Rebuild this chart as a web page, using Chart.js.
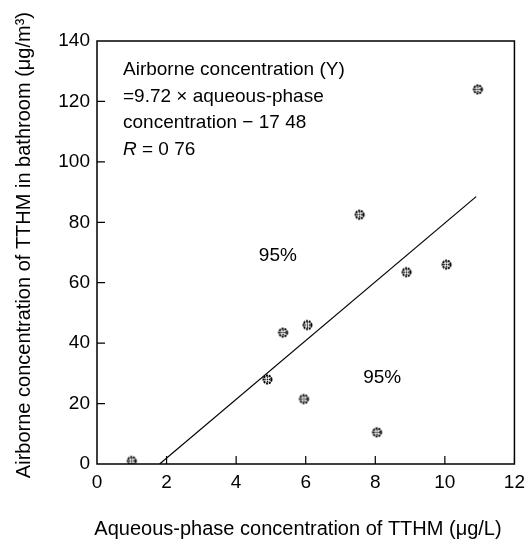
<!DOCTYPE html>
<html>
<head>
<meta charset="utf-8">
<script src="https://cdn.jsdelivr.net/npm/chart.js@4/dist/chart.umd.min.js"></script>
<style>
  html, body { margin: 0; background: #fff; }
  #wrap { width: 532px; height: 548px; }
</style>
</head>
<body>
<div id="wrap"><canvas id="tthmChart" width="532" height="548"></canvas></div>
<script>
// Measured TTHM: aqueous phase (ug/L) vs. airborne in bathroom (ug/m3)
const aqueous  = [1.0, 4.9, 5.35, 5.95, 6.05, 7.55, 8.05, 8.9, 10.05, 10.95];
const airborne = [1.0, 28.0, 43.5, 21.5, 46.0, 82.5, 10.5, 63.5, 66.0, 124.0];

// regression line end points
const fitX = [1.8, 10.9];
const fitY = [0, 88.5];

const xTicks = [0, 2, 4, 6, 8, 10, 12];
const yTicks = [0, 20, 40, 60, 80, 100, 120, 140];

const FONT = '"Liberation Sans", Arial, sans-serif';

// speckled round marker
function makeMarker() {
  const c = document.createElement('canvas');
  c.width = 13; c.height = 13;
  const g = c.getContext('2d');
  g.strokeStyle = '#000';
  g.lineWidth = 2;
  g.setLineDash([2, 0.8]);
  g.beginPath();
  g.arc(6.5, 6.5, 4.0, 0, Math.PI * 2);
  g.stroke();
  g.lineWidth = 1.4;
  g.setLineDash([1.3, 0.9]);
  g.beginPath();
  g.moveTo(3.5, 6.5); g.lineTo(9.5, 6.5);
  g.moveTo(6.5, 3.5); g.lineTo(6.5, 9.5);
  g.stroke();
  return c;
}
const marker = makeMarker();

const frame = {
  id: 'frame',
  afterDraw(chart) {
    const { ctx, chartArea: a, scales: { x, y } } = chart;
    ctx.save();
    ctx.strokeStyle = '#000';
    ctx.lineWidth = 1.5;
    ctx.strokeRect(a.left, a.top, a.right - a.left, a.bottom - a.top);

    // inward tick marks
    ctx.lineWidth = 1.2;
    ctx.beginPath();
    xTicks.slice(1, -1).forEach(v => {
      const px = x.getPixelForValue(v);
      ctx.moveTo(px, a.bottom); ctx.lineTo(px, a.bottom - 8);
    });
    yTicks.slice(1, -1).forEach(v => {
      const py = y.getPixelForValue(v);
      ctx.moveTo(a.left, py); ctx.lineTo(a.left + 8, py);
    });
    ctx.stroke();

    ctx.fillStyle = '#000';
    ctx.textBaseline = 'middle';
    ctx.textAlign = 'left';
    ctx.font = '19px ' + FONT;
    const tx = a.left + 26;
    ctx.fillText('Airborne concentration (Y)', tx, 70);
    ctx.fillText('=9.72 × aqueous-phase', tx, 97);
    ctx.fillText('concentration − 17 48', tx, 123);
    ctx.font = 'italic 19px ' + FONT;
    ctx.fillText('R', tx, 150);
    const rw = ctx.measureText('R').width;
    ctx.font = '19px ' + FONT;
    ctx.fillText(' = 0 76', tx + rw, 150);

    // confidence labels
    ctx.textAlign = 'center';
    ctx.fillText('95%', x.getPixelForValue(5.2), y.getPixelForValue(69));
    ctx.fillText('95%', x.getPixelForValue(8.2), y.getPixelForValue(28.5));

    // axis titles
    ctx.font = '20px ' + FONT;
    ctx.fillText('Aqueous-phase concentration of TTHM (μg/L)', 298, 529);
    ctx.translate(24, 12);
    ctx.rotate(-Math.PI / 2);
    ctx.textAlign = 'right';
    ctx.fillText('Airborne concentration of TTHM in bathroom (μg/m³)', 0, 0);
    ctx.restore();
  }
};

new Chart(document.getElementById('tthmChart'), {
  type: 'scatter',
  data: {
    datasets: [{
      label: 'TTHM',
      data: aqueous.map((v, i) => ({ x: v, y: airborne[i] })),
      pointStyle: marker,
      pointRadius: 6,
      pointHoverRadius: 6
    }, {
      type: 'line',
      label: 'fit',
      data: fitX.map((v, i) => ({ x: v, y: fitY[i] })),
      borderColor: '#000',
      borderWidth: 1.2,
      pointRadius: 0,
      fill: false
    }]
  },
  options: {
    responsive: false,
    animation: false,
    devicePixelRatio: 1,
    layout: { padding: { top: 41, right: 16, left: 0, bottom: 0 } },
    plugins: {
      legend: { display: false },
      title: { display: false },
      tooltip: { enabled: false }
    },
    scales: {
      x: {
        type: 'linear',
        min: 0, max: 12,
        afterBuildTicks: s => { s.ticks = xTicks.map(v => ({ value: v })); },
        afterFit: s => { s.height = 84; },
        grid: { display: false, drawTicks: false },
        border: { display: false },
        ticks: { color: '#000', font: { family: FONT, size: 19 }, padding: 7, maxRotation: 0 }
      },
      y: {
        type: 'linear',
        min: 0, max: 140,
        afterBuildTicks: s => { s.ticks = yTicks.map(v => ({ value: v })); },
        afterFit: s => { s.width = 97; },
        grid: { display: false, drawTicks: false },
        border: { display: false },
        ticks: { color: '#000', font: { family: FONT, size: 19 }, padding: 7 }
      }
    }
  },
  plugins: [frame]
});
</script>
</body>
</html>
